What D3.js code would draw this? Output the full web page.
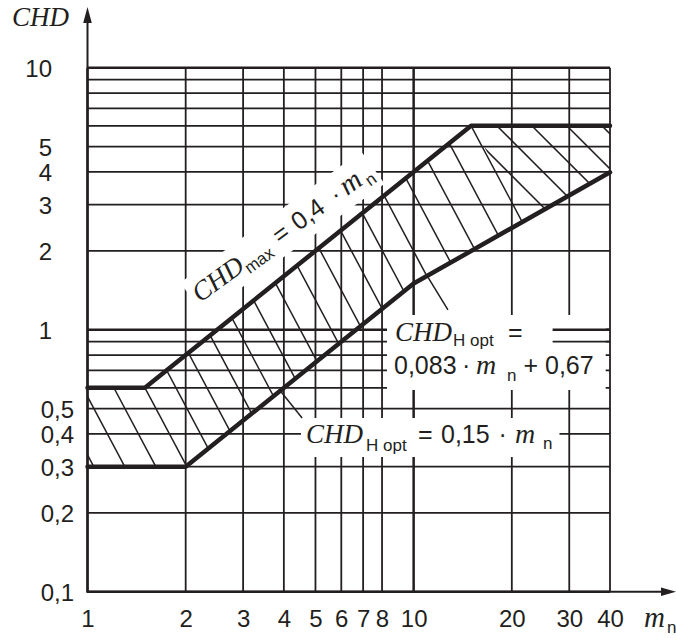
<!DOCTYPE html>
<html>
<head>
<meta charset="utf-8">
<script src="https://cdn.jsdelivr.net/npm/d3@7/dist/d3.min.js"></script>
<style>
  html, body { margin: 0; padding: 0; background: #ffffff; }
  svg { display: block; }
</style>
</head>
<body>
<svg id="chart" width="676" height="638"></svg>
<script>
// ---------- values ----------
// module m_n: vertical grid lines and their labels
const xGridValues = [1, 2, 3, 4, 5, 6, 7, 8, 10, 20, 30, 40];
const xTickLabels = ["1", "2", "3", "4", "5", "6", "7", "8", "10", "20", "30", "40"];
// case hardening depth CHD: horizontal grid lines and labelled ticks
const yGridValues = [0.1, 0.2, 0.3, 0.4, 0.5, 0.6, 0.7, 0.8, 0.9, 1, 2, 3, 4, 5, 6, 7, 8, 9, 10];
const yTickValues = [0.1, 0.2, 0.3, 0.4, 0.5, 1, 2, 3, 4, 5, 10];
const yTickLabels = ["0,1", "0,2", "0,3", "0,4", "0,5", "1", "2", "3", "4", "5", "10"];

// upper limit CHD_max = 0,4 · m_n, held at 0,6 and 6
const upperM = [1, 1.5, 15, 40];
const upperCHD = [0.6, 0.6, 6, 6];
// lower limit CHD_H opt: 0,3 floor, 0,15 · m_n, then 0,083 · m_n + 0,67
const lowerM = [1, 2, 10, 40];
const lowerCHD = [0.3, 0.3, 1.5, 3.99];

// leader lines [m_n, CHD] from the formula labels to the lower limit
const leaderRight = [[11, 1.604], [12.74, 1.19]];
const leaderLeft = [[3.9, 0.585], [4.55, 0.46]];

// ---------- setup ----------
const INK = "#231f20";
const SANS = "'Liberation Sans', Arial, Helvetica, sans-serif";
const SERIF = "'Liberation Serif', 'Times New Roman', serif";

const svg = d3.select("#chart");
const x = d3.scaleLog().domain([1, 40]).range([87.5, 610]);
const y = d3.scaleLog().domain([0.1, 10]).range([591.7, 67.7]);
const decade = v => Math.abs(Math.log10(v) - Math.round(Math.log10(v))) < 1e-9;

// ---------- grid ----------
const grid = svg.append("g").attr("stroke", INK);
grid.selectAll("line.v").data(xGridValues).join("line").attr("class", "v")
  .attr("x1", d => x(d)).attr("x2", d => x(d))
  .attr("y1", y(0.1)).attr("y2", y(10))
  .attr("stroke-width", d => decade(d) ? 2.5 : 1.8);
grid.selectAll("line.h").data(yGridValues).join("line").attr("class", "h")
  .attr("x1", x(1)).attr("x2", x(40))
  .attr("y1", d => y(d)).attr("y2", d => y(d))
  .attr("stroke-width", d => decade(d) ? 2.5 : 1.8);

// ---------- formula labels (white boxes hide the grid behind them) ----------
const boxes = svg.append("g").attr("fill", "#fff");
const labels = svg.append("g").attr("fill", INK);

function piece(t, str, font, size, px, py, italic) {
  t.append("tspan").text(str)
    .attr("x", px).attr("y", py)
    .attr("font-family", font).attr("font-size", size)
    .attr("font-style", italic ? "italic" : "normal");
}

// CHD_max = 0,4 · m_n written along the upper limit
const gMax = labels.append("g").attr("transform", "translate(200,303) rotate(-36)");
const tMax = gMax.append("text");
piece(tMax, "CHD", SERIF, 27, 0, 0, true);
piece(tMax, "max", SANS, 17, 57, 6);
piece(tMax, "=", SANS, 25, 99, 0);
piece(tMax, "0,4", SANS, 25, 122, 0);
piece(tMax, "·", SANS, 25, 169, 0);
piece(tMax, "m", SERIF, 29, 182, 0, true);
piece(tMax, "n", SANS, 17, 206, 6);

// CHD_H opt = 0,083 · m_n + 0,67 (two lines)
const tMid1 = labels.append("text");
piece(tMid1, "CHD", SERIF, 27, 395, 341, true);
piece(tMid1, "H opt", SANS, 17, 453, 346);
piece(tMid1, "=", SANS, 25, 508, 341);
const tMid2 = labels.append("text");
piece(tMid2, "0,083", SANS, 25, 394, 374);
piece(tMid2, "·", SANS, 25, 462, 374);
piece(tMid2, "m", SERIF, 28, 476, 374, true);
piece(tMid2, "n", SANS, 17, 507, 381);
piece(tMid2, "+", SANS, 25, 523.5, 374);
piece(tMid2, "0,67", SANS, 25, 545, 374);

// CHD_H opt = 0,15 · m_n
const tLow = labels.append("text");
piece(tLow, "CHD", SERIF, 27, 306, 443, true);
piece(tLow, "H opt", SANS, 17, 366, 451);
piece(tLow, "=", SANS, 25, 418, 443);
piece(tLow, "0,15", SANS, 25, 441, 443);
piece(tLow, "·", SANS, 25, 498.5, 443);
piece(tLow, "m", SERIF, 28, 515, 443, true);
piece(tLow, "n", SANS, 17, 543, 449);

// white boxes sized from the text extents
{
  const b = tMax.node().getBBox();
  boxes.append("rect").attr("transform", "translate(200,303) rotate(-36)")
    .attr("x", b.x - 4).attr("y", b.y - 2).attr("width", b.width + 8).attr("height", b.height + 4);
}
{
  const b1 = tMid1.node().getBBox(), b2 = tMid2.node().getBBox();
  const x0 = Math.min(b1.x, b2.x) - 7, y0 = b1.y - 2;
  const x1 = Math.max(b1.x + b1.width, b2.x + b2.width) + 12, y1 = b2.y + b2.height + 5;
  boxes.append("rect").attr("x", x0).attr("y", y0).attr("width", x1 - x0).attr("height", y1 - y0);
  // the first line is short: grid to its right stays visible
  const firstLineRight = b1.x + b1.width + 30;
  svg.append("g").attr("stroke", INK).selectAll("line")
    .data(yGridValues.filter(v => y(v) > y0 && y(v) < b2.y)).join("line")
    .attr("x1", firstLineRight).attr("x2", x(40))
    .attr("y1", d => y(d)).attr("y2", d => y(d))
    .attr("stroke-width", d => decade(d) ? 2.5 : 1.8);
}
{
  const b = tLow.node().getBBox();
  boxes.append("rect").attr("x", b.x - 5).attr("y", b.y)
    .attr("width", b.width + 12).attr("height", b.height + 2);
}

// ---------- hatched range between the limits ----------
const defs = svg.append("defs");
const bandPts = upperM.map((m, i) => [x(m), y(upperCHD[i])])
  .concat(lowerM.map((m, i) => [x(m), y(lowerCHD[i])]).reverse());
defs.append("clipPath").attr("id", "bandClip")
  .append("polygon").attr("points", bandPts.map(p => p.join(",")).join(" "));

const p1 = [x(1.5), y(0.6)];   // corner where CHD_max leaves 0,6
const p2 = [x(15), y(6)];      // corner where CHD_max reaches 6
const sA = 1.88;               // slope of the hatching left of p2
const sB = 1.0;                // slope of the hatching right of p2
const sp = [[p2[0] + 2 - 400, p2[1] - 400 * sA], [p2[0] + 2 + 400, p2[1] + 400 * sA]];
defs.append("clipPath").attr("id", "leftClip").append("polygon")
  .attr("points", [sp[0], sp[1], [-2000, sp[1][1]], [-2000, sp[0][1]]].map(p => p.join(",")).join(" "));
defs.append("clipPath").attr("id", "rightClip").append("polygon")
  .attr("points", [sp[0], sp[1], [3000, sp[1][1]], [3000, sp[0][1]]].map(p => p.join(",")).join(" "));

const hatch = svg.append("g").attr("clip-path", "url(#bandClip)")
  .attr("stroke", INK).attr("stroke-width", 1.5);

const xEnd = p2[0] + (p1[1] - p2[1]) / sA;
const hA = (xEnd - p1[0]) / 15;
const famA = d3.range(-4, 17).map(k => p1[0] + k * hA);
hatch.append("g").attr("clip-path", "url(#leftClip)")
  .selectAll("line").data(famA).join("line")
  .attr("x1", d => d - 400).attr("y1", p1[1] - 400 * sA)
  .attr("x2", d => d + 400).attr("y2", p1[1] + 400 * sA);

const q = [x(18), y(6)];
const famB = d3.range(-2, 5).map(k => q[0] + k * 35);
hatch.append("g").attr("clip-path", "url(#rightClip)")
  .selectAll("line").data(famB).join("line")
  .attr("x1", d => d - 400).attr("y1", q[1] - 400 * sB)
  .attr("x2", d => d + 400).attr("y2", q[1] + 400 * sB);

// ---------- limit lines ----------
const line = d3.line().x(d => x(d[0])).y(d => y(d[1]));
svg.append("path").datum(upperM.map((m, i) => [m, upperCHD[i]]))
  .attr("d", line).attr("fill", "none").attr("stroke", INK)
  .attr("stroke-width", 4.5).attr("stroke-linecap", "round").attr("stroke-linejoin", "round");
svg.append("path").datum(lowerM.map((m, i) => [m, lowerCHD[i]]))
  .attr("d", line).attr("fill", "none").attr("stroke", INK)
  .attr("stroke-width", 4.5).attr("stroke-linecap", "round").attr("stroke-linejoin", "round");

// leaders
[leaderRight, leaderLeft].forEach(l => {
  svg.append("path").datum(l).attr("d", line)
    .attr("fill", "none").attr("stroke", INK).attr("stroke-width", 1.5);
});

// labels on top
labels.raise();

// ---------- axes ----------
const yAxis = d3.axisLeft(y).tickValues(yTickValues)
  .tickFormat((d, i) => yTickLabels[i]).tickSize(0).tickPadding(0);
const gy = svg.append("g").attr("transform", "translate(74,0)").call(yAxis);
gy.select(".domain").remove();
gy.attr("font-family", SANS).attr("font-size", 24);
gy.selectAll("text").attr("fill", INK).attr("text-anchor", "end")
  .attr("x", d => d >= 1 ? -22 : 0).attr("dy", "0.37em");

const xAxis = d3.axisBottom(x).tickValues(xGridValues)
  .tickFormat((d, i) => xTickLabels[i]).tickSize(0).tickPadding(0);
const gx = svg.append("g").attr("transform", `translate(0,${y(0.1)})`).call(xAxis);
gx.select(".domain").remove();
gx.attr("font-family", SANS).attr("font-size", 24);
gx.selectAll("text").attr("fill", INK).attr("y", 18).attr("dy", "0.71em");

// axis lines with arrow heads
const ax = svg.append("g").attr("stroke", INK).attr("fill", INK);
ax.append("line").attr("x1", x(1)).attr("x2", x(1)).attr("y1", y(0.1) + 1).attr("y2", 20).attr("stroke-width", 2);
ax.append("path").attr("stroke", "none")
  .attr("d", `M${x(1)},7 L${x(1) - 4.3},23 L${x(1) + 4.3},23 Z`);
ax.append("line").attr("x1", x(1) - 1).attr("x2", 664).attr("y1", y(0.1)).attr("y2", y(0.1)).attr("stroke-width", 2);
ax.append("path").attr("stroke", "none")
  .attr("d", `M676,${y(0.1)} L661,${y(0.1) - 4.2} L661,${y(0.1) + 4.2} Z`);

// axis titles
const tY = svg.append("text").attr("fill", INK);
piece(tY, "CHD", SERIF, 27, 12, 26, true);
const tX = svg.append("text").attr("fill", INK);
piece(tX, "m", SERIF, 29, 644, 627, true);
piece(tX, "n", SANS, 17, 667, 633);
</script>
</body>
</html>
